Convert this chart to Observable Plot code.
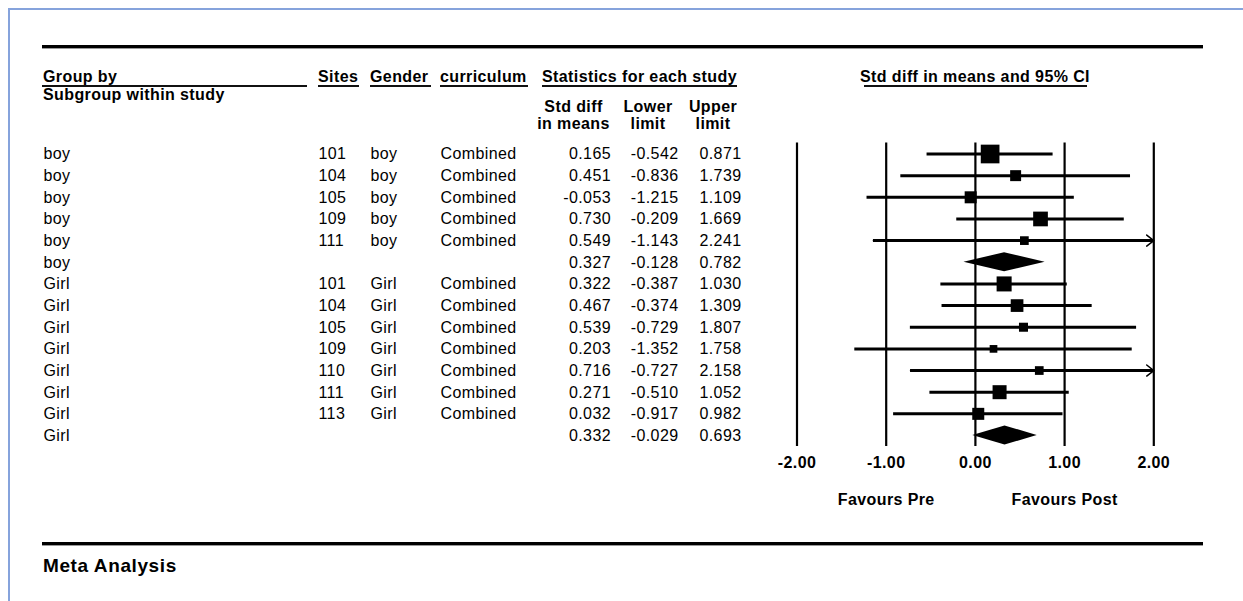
<!DOCTYPE html>
<html><head><meta charset="utf-8">
<script src="https://cdn.jsdelivr.net/npm/d3@7"></script>
<script src="https://cdn.jsdelivr.net/npm/@observablehq/plot@0.6"></script>
<style>
html,body{margin:0;padding:0;background:#fff;}
#page{position:relative;width:1243px;height:601px;overflow:hidden;font-family:"Liberation Sans",Arial,sans-serif;letter-spacing:0.4px;color:#000;}
.t{position:absolute;font-size:16px;line-height:16px;white-space:nowrap;font-weight:bold;}
.bar{position:absolute;background:#000;}
#chart{position:absolute;left:0;top:0;}
</style></head><body><div id="page"></div>
<script>
// ---- data ----
const group      = ["boy","boy","boy","boy","boy","boy","Girl","Girl","Girl","Girl","Girl","Girl","Girl","Girl"];
const sites      = ["101","104","105","109","111","","101","104","105","109","110","111","113",""];
const gender     = ["boy","boy","boy","boy","boy","","Girl","Girl","Girl","Girl","Girl","Girl","Girl",""];
const curriculum = ["Combined","Combined","Combined","Combined","Combined","","Combined","Combined","Combined","Combined","Combined","Combined","Combined",""];
const estimate   = [0.165,0.451,-0.053,0.730,0.549,0.327,0.322,0.467,0.539,0.203,0.716,0.271,0.032,0.332];
const lower      = [-0.542,-0.836,-1.215,-0.209,-1.143,-0.128,-0.387,-0.374,-0.729,-1.352,-0.727,-0.510,-0.917,-0.029];
const upper      = [0.871,1.739,1.109,1.669,2.241,0.782,1.030,1.309,1.807,1.758,2.158,1.052,0.982,0.693];
const weight     = [18.9,6.5,7.8,11.7,4.1,null,12.2,8.7,4.4,3.2,4.1,10.6,7.8,null]; // relative weight (%), null = subgroup summary
const tickValues = [-2,-1,0,1,2];
const favourLabels = ["Favours Pre","Favours Post"];
const favourAt     = [-1, 1];
const title = "Meta Analysis";

// ---- layout ----
const page = document.getElementById("page");
function div(cls, css, text) {
  const e = document.createElement("div");
  e.className = cls; Object.assign(e.style, css);
  if (text != null) e.textContent = text;
  page.appendChild(e); return e;
}
// frame chrome
div("bar", {left:"9px", top:"8.3px", right:"0px", height:"1.8px", background:"#86a3dc"});
div("bar", {left:"8.3px", top:"8.3px", bottom:"0px", width:"1.8px", background:"#86a3dc"});
div("bar", {left:"42px", top:"45px", width:"1161px", height:"3px", boxShadow:"0 1px 0 #999"});
div("bar", {left:"42px", top:"542px", width:"1161px", height:"3px", boxShadow:"0 1px 0 #999"});

const headers = [
  {text:"Group by", left:43, base:83},
  {text:"Subgroup within study", left:43, base:100.7},
  {text:"Sites", left:318, base:83},
  {text:"Gender", left:370, base:83},
  {text:"curriculum", left:440, base:83},
  {text:"Statistics for each study", left:542, base:83},
  {text:"Std diff", center:573.5, base:112.7},
  {text:"in means", center:573.5, base:130},
  {text:"Lower", center:648, base:112.7},
  {text:"limit", center:648, base:130},
  {text:"Upper", center:713, base:112.7},
  {text:"limit", center:713, base:130},
  {text:"Std diff in means and 95% CI", center:975, base:83}
];
for (const h of headers) {
  const css = {top:(h.base - 13.55) + "px"};
  if (h.center != null) { css.left = h.center + "px"; css.transform = "translateX(-50%)"; }
  else css.left = h.left + "px";
  div("t", css, h.text);
}
const underlines = [[42,307],[318,359],[370,431],[440,528],[542,737],[864,1087]];
for (const [a,b] of underlines) div("bar", {left:a+"px", width:(b-a)+"px", top:"85.3px", height:"1.7px", background:"#111"});
div("t", {left:"43px", top:(572 - 16.08)+"px", fontSize:"19px", lineHeight:"19px", letterSpacing:"0.6px"}, title);

// ---- chart ----
const rows = group.map((g,i)=>({i, group:g, site:sites[i], gender:gender[i], curriculum:curriculum[i],
  est:estimate[i], lo:lower[i], hi:upper[i], w:weight[i], summary: weight[i]==null}));
const studies = rows.filter(d=>!d.summary);
const summaries = rows.filter(d=>d.summary);
const XMAX = 2, HALF = 0.44;
const diamond = summaries.flatMap(d=>[
  {i:d.i, y:d.i-HALF, x1:d.est, x2:d.est},
  {i:d.i, y:d.i, x1:d.lo, x2:d.hi},
  {i:d.i, y:d.i+HALF, x1:d.est, x2:d.est}]);
const cols = [
  {x:43,    anchor:"start", text:d=>d.group},
  {x:318,   anchor:"start", text:d=>d.site},
  {x:370,   anchor:"start", text:d=>d.gender},
  {x:440,   anchor:"start", text:d=>d.curriculum},
  {x:610.5, anchor:"end",   text:d=>d.est.toFixed(3)},
  {x:678,   anchor:"end",   text:d=>d.lo.toFixed(3)},
  {x:741,   anchor:"end",   text:d=>d.hi.toFixed(3)}
];
const favours = favourLabels.map((label,k)=>({label, x:favourAt[k]}));

const chart = Plot.plot({
  width:1243, height:601,
  marginLeft:0, marginRight:0, marginTop:142.6, marginBottom:155,
  style:"background:transparent;font-family:'Liberation Sans',Arial,sans-serif;font-size:16px;letter-spacing:0.4px;color:#000;",
  x:{domain:[-2,2], range:[796.5,1153.3]},
  y:{domain:[0,13], range:[153.5,435], axis:null},
  r:{type:"sqrt", domain:[0,18.9], range:[0,10.55]},
  marks:[
    ...cols.map(c=>Plot.text(rows, {y:"i", frameAnchor:"left", dx:c.x, dy:0.3, text:c.text, textAnchor:c.anchor, fill:"#000"})),
    Plot.ruleX(tickValues, {stroke:"#000", strokeWidth:2.2}),
    Plot.ruleY(studies, {y:"i", x1:"lo", x2:d=>Math.min(d.hi, XMAX), stroke:"#000", strokeWidth:3}),
    Plot.arrow(studies.filter(d=>d.hi>XMAX), {x1:"lo", x2:()=>XMAX, y1:"i", y2:"i", stroke:"#000", strokeWidth:1.5, headLength:9, headAngle:76}),
    Plot.dot(studies, {x:"est", y:"i", r:"w", symbol:"square", fill:"#000", stroke:null}),
    Plot.areaX(diamond, {y:"y", x1:"x1", x2:"x2", z:"i", fill:"#000", curve:"linear"}),
    Plot.axisX(tickValues, {anchor:"bottom", tickSize:0, tickPadding:10.5, tickFormat:d=>d.toFixed(2), fontWeight:"bold", label:null}),
    Plot.text(favours, {x:"x", text:"label", frameAnchor:"bottom", lineAnchor:"top", dy:47, fontWeight:"bold", fill:"#000"})
  ]
});
chart.id = "chart";
page.appendChild(chart);
</script></body></html>
